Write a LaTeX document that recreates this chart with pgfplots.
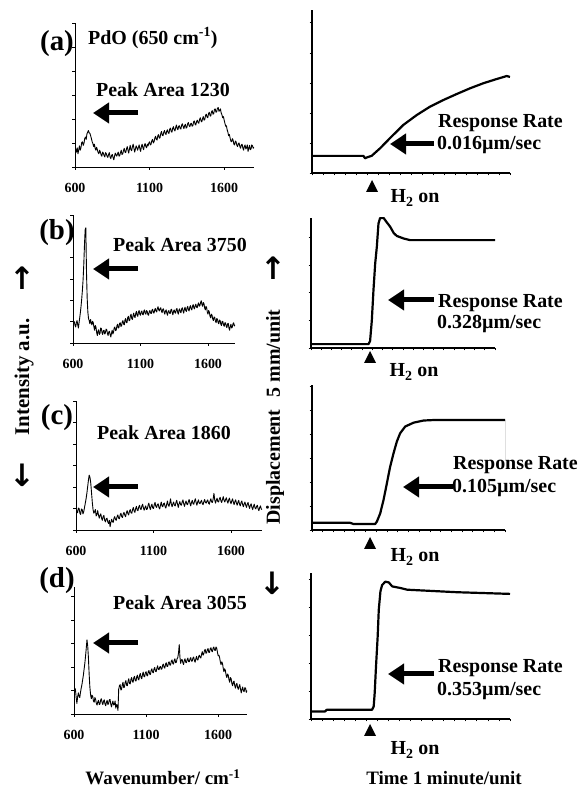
\documentclass[border=0pt]{standalone}
\usepackage{fontspec}
\setmainfont{Liberation Serif}
\newfontfamily\djv{DejaVu Sans}
\usepackage{pgfplots}
\pgfplotsset{compat=1.18}
\usetikzlibrary{arrows.meta}
\newcommand\ft[1]{\fontsize{#1}{#1}\selectfont\bfseries}
\pgfplotsset{
  leftspec/.style={scale only axis, axis x line*=bottom, axis y line*=left,
    xmin=600, xmax=1800, ymin=0, xtick={600,1100,1600}, ytick={0,...,6}, yticklabels={},
    tick align=outside, major tick length=3bp, tick style={black, line width=0.6bp},
    axis line style={line width=0.8bp},
    /pgf/number format/assume math mode=true, /pgf/number format/1000 sep={},
    x tick label style={font=\ft{14}, yshift=-10bp}},
  rightdisp/.style={scale only axis, axis x line*=bottom, axis y line*=left,
    xmin=0, xmax=18, ymin=0, xtick={0,...,18}, ytick={0,...,6}, xticklabels={}, yticklabels={},
    tick align=outside, major tick length=2.5bp, tick style={black, line width=0.8bp},
    x axis line style={line width=1.5bp}, y axis line style={line width=2bp}},
  spec/.style={black, line width=0.9bp, no marks, line join=round},
  disp/.style={black, line width=2.2bp, no marks, line join=round},
}
\newcommand\blockarrow[3]{\draw[line width=5bp, -{Triangle[length=16bp, width=20bp]}] (#1,#3) -- (#2,#3);}
\newcommand\tri[2]{\fill (#1-6,#2-6) -- (#1+6,#2-6) -- (#1,#2+6) -- cycle;}
\newcommand\arr{\djv\bfseries\fontsize{31}{31}\selectfont}
\begin{document}
\begin{tikzpicture}[x=1bp,y=1bp]
\useasboundingbox (0,0) rectangle (585,787);

% ---------- left spectra ----------
\begin{axis}[leftspec, at={(75bp,620bp)}, anchor=south west, width=179bp, height=144bp, ymax=6]
\addplot[spec] coordinates {(600,0.95) (605,0.70) (610,0.62) (615,0.80) (620,0.55) (625,0.72) (630,0.88) (635,0.70) (640,0.80) (645,1.02) (650,1.05) (655,0.90) (660,0.98) (665,1.18) (670,1.25) (675,1.15) (680,1.38) (685,1.45) (690,1.52) (695,1.42) (700,1.40) (705,1.30) (710,1.18) (715,1.05) (720,0.98) (725,0.85) (730,0.95) (735,0.78) (740,0.70) (745,0.82) (750,0.72) (755,0.60) (760,0.55) (765,0.70) (770,0.62) (775,0.50) (780,0.45) (785,0.62) (790,0.58) (795,0.48) (800,0.42) (805,0.60) (810,0.55) (815,0.45) (820,0.40) (825,0.52) (830,0.60) (835,0.42) (840,0.35) (845,0.48) (850,0.52) (855,0.40) (860,0.30) (865,0.45) (870,0.58) (875,0.50) (880,0.45) (885,0.55) (890,0.62) (895,0.45) (900,0.48) (905,0.60) (910,0.70) (915,0.52) (920,0.55) (925,0.68) (930,0.78) (935,0.62) (940,0.60) (945,0.75) (950,0.85) (955,0.70) (960,0.58) (965,0.75) (970,0.90) (975,0.72) (980,0.68) (985,0.85) (990,0.95) (995,0.78) (1000,0.62) (1005,0.75) (1010,0.88) (1015,0.80) (1020,0.70) (1025,0.82) (1030,0.92) (1035,0.75) (1040,0.65) (1045,0.85) (1050,0.95) (1055,0.80) (1060,0.72) (1065,0.90) (1070,0.98) (1075,0.85) (1080,0.80) (1085,0.95) (1090,0.88) (1095,1.00) (1100,1.05) (1105,0.92) (1110,0.95) (1115,1.10) (1120,1.15) (1125,1.00) (1130,1.05) (1135,1.20) (1140,1.28) (1145,1.15) (1150,1.12) (1155,1.30) (1160,1.35) (1165,1.20) (1170,1.22) (1175,1.40) (1180,1.48) (1185,1.32) (1190,1.30) (1195,1.45) (1200,1.52) (1205,1.40) (1210,1.35) (1215,1.50) (1220,1.55) (1225,1.42) (1230,1.40) (1235,1.58) (1240,1.62) (1245,1.48) (1250,1.45) (1255,1.62) (1260,1.68) (1265,1.55) (1270,1.50) (1275,1.65) (1280,1.75) (1285,1.60) (1290,1.55) (1295,1.70) (1300,1.72) (1305,1.60) (1310,1.58) (1315,1.75) (1320,1.80) (1325,1.68) (1330,1.60) (1335,1.72) (1340,1.78) (1345,1.62) (1350,1.65) (1355,1.80) (1360,1.85) (1365,1.72) (1370,1.68) (1375,1.80) (1380,1.82) (1385,1.70) (1390,1.72) (1395,1.88) (1400,1.92) (1405,1.78) (1410,1.75) (1415,1.90) (1420,1.95) (1425,1.85) (1430,1.82) (1435,1.98) (1440,2.05) (1445,1.92) (1450,1.88) (1455,2.02) (1460,2.10) (1465,1.95) (1470,1.98) (1475,2.15) (1480,2.20) (1485,2.08) (1490,2.05) (1495,2.22) (1500,2.28) (1505,2.15) (1510,2.12) (1515,2.30) (1520,2.35) (1525,2.20) (1530,2.22) (1535,2.40) (1540,2.42) (1545,2.28) (1550,2.30) (1555,2.45) (1560,2.48) (1565,2.32) (1570,2.35) (1575,2.42) (1580,2.25) (1585,2.18) (1590,2.05) (1595,2.10) (1600,1.95) (1605,1.82) (1610,1.70) (1615,1.72) (1620,1.55) (1625,1.45) (1630,1.30) (1635,1.35) (1640,1.20) (1645,1.08) (1650,1.05) (1655,1.18) (1660,1.12) (1665,0.95) (1670,0.92) (1675,1.08) (1680,1.05) (1685,0.90) (1690,0.85) (1695,0.98) (1700,1.00) (1705,0.85) (1710,0.78) (1715,0.92) (1720,0.95) (1725,0.80) (1730,0.70) (1735,0.85) (1740,0.92) (1745,0.75) (1750,0.80) (1755,0.92) (1760,0.65) (1765,0.78) (1770,0.90) (1775,0.72) (1780,0.75) (1785,0.92) (1790,0.88) (1795,0.78) (1800,0.82)};
\end{axis}

\begin{axis}[leftspec, at={(73bp,444bp)}, anchor=south west, width=162bp, height=128bp, ymax=6]
\addplot[spec] coordinates {(600,0.80) (605,0.95) (610,1.00) (615,0.82) (620,0.75) (625,0.95) (630,1.05) (635,0.85) (640,0.70) (645,0.95) (650,1.20) (655,1.45) (660,1.75) (665,2.10) (670,2.50) (675,3.00) (680,3.70) (685,4.60) (690,5.30) (695,5.40) (700,3.30) (705,2.10) (710,1.45) (715,1.15) (720,1.05) (725,0.90) (730,1.10) (735,0.95) (740,0.85) (745,1.02) (750,0.95) (755,0.75) (760,0.60) (765,0.82) (770,0.75) (775,0.50) (780,0.35) (785,0.55) (790,0.62) (795,0.40) (800,0.45) (805,0.70) (810,0.68) (815,0.48) (820,0.40) (825,0.58) (830,0.60) (835,0.42) (840,0.48) (845,0.65) (850,0.62) (855,0.45) (860,0.35) (865,0.52) (870,0.55) (875,0.40) (880,0.28) (885,0.45) (890,0.60) (895,0.42) (900,0.50) (905,0.70) (910,0.75) (915,0.58) (920,0.60) (925,0.80) (930,0.88) (935,0.70) (940,0.72) (945,0.92) (950,0.95) (955,0.78) (960,0.80) (965,1.00) (970,1.05) (975,0.88) (980,0.85) (985,1.08) (990,1.15) (995,0.95) (1000,0.95) (1005,1.18) (1010,1.25) (1015,1.05) (1020,1.05) (1025,1.28) (1030,1.35) (1035,1.15) (1040,1.10) (1045,1.30) (1050,1.40) (1055,1.22) (1060,1.20) (1065,1.40) (1070,1.48) (1075,1.30) (1080,1.25) (1085,1.45) (1090,1.52) (1095,1.35) (1100,1.30) (1105,1.45) (1110,1.50) (1115,1.35) (1120,1.32) (1125,1.50) (1130,1.55) (1135,1.38) (1140,1.35) (1145,1.52) (1150,1.48) (1155,1.32) (1160,1.30) (1165,1.48) (1170,1.52) (1175,1.40) (1180,1.38) (1185,1.55) (1190,1.58) (1195,1.42) (1200,1.40) (1205,1.55) (1210,1.62) (1215,1.50) (1220,1.45) (1225,1.62) (1230,1.70) (1235,1.55) (1240,1.50) (1245,1.62) (1250,1.65) (1255,1.50) (1260,1.42) (1265,1.58) (1270,1.60) (1275,1.45) (1280,1.35) (1285,1.50) (1290,1.55) (1295,1.40) (1300,1.30) (1305,1.48) (1310,1.52) (1315,1.40) (1320,1.38) (1325,1.55) (1330,1.58) (1335,1.42) (1340,1.32) (1345,1.50) (1350,1.55) (1355,1.42) (1360,1.40) (1365,1.58) (1370,1.62) (1375,1.45) (1380,1.35) (1385,1.55) (1390,1.60) (1395,1.45) (1400,1.42) (1405,1.60) (1410,1.65) (1415,1.50) (1420,1.40) (1425,1.58) (1430,1.68) (1435,1.52) (1440,1.48) (1445,1.65) (1450,1.72) (1455,1.55) (1460,1.50) (1465,1.68) (1470,1.75) (1475,1.60) (1480,1.55) (1485,1.72) (1490,1.80) (1495,1.65) (1500,1.60) (1505,1.75) (1510,1.82) (1515,1.68) (1520,1.65) (1525,1.80) (1530,1.88) (1535,1.72) (1540,1.75) (1545,1.90) (1550,1.98) (1555,1.80) (1560,1.72) (1565,1.90) (1570,1.85) (1575,1.65) (1580,1.55) (1585,1.72) (1590,1.65) (1595,1.45) (1600,1.35) (1605,1.52) (1610,1.45) (1615,1.25) (1620,1.18) (1625,1.35) (1630,1.30) (1635,1.12) (1640,1.05) (1645,1.22) (1650,1.20) (1655,1.02) (1660,0.95) (1665,1.15) (1670,1.12) (1675,0.95) (1680,0.90) (1685,1.08) (1690,1.05) (1695,0.88) (1700,0.82) (1705,1.02) (1710,1.00) (1715,0.85) (1720,0.78) (1725,0.95) (1730,0.95) (1735,0.78) (1740,0.72) (1745,0.90) (1750,0.92) (1755,0.70) (1760,0.60) (1765,0.78) (1770,0.88) (1775,0.70) (1780,0.75) (1785,0.90) (1790,0.95) (1795,0.80) (1800,0.85)};
\end{axis}

\begin{axis}[leftspec, at={(76bp,257bp)}, anchor=south west, width=186bp, height=129bp, ymax=6]
\addplot[spec] coordinates {(600,1.05) (605,0.85) (610,0.80) (615,1.02) (620,1.00) (625,0.78) (630,0.72) (635,0.98) (640,0.95) (645,0.75) (650,0.85) (655,1.05) (660,1.25) (665,1.45) (670,1.70) (675,2.00) (680,2.30) (685,2.55) (690,2.45) (695,2.20) (700,1.75) (705,1.30) (710,0.95) (715,0.78) (720,0.85) (725,0.95) (730,0.65) (735,0.72) (740,0.90) (745,0.70) (750,0.55) (755,0.68) (760,0.75) (765,0.55) (770,0.45) (775,0.62) (780,0.68) (785,0.45) (790,0.38) (795,0.52) (800,0.55) (805,0.38) (810,0.30) (815,0.45) (820,0.15) (825,0.35) (830,0.50) (835,0.40) (840,0.35) (845,0.55) (850,0.62) (855,0.48) (860,0.45) (865,0.62) (870,0.70) (875,0.55) (880,0.52) (885,0.70) (890,0.78) (895,0.62) (900,0.58) (905,0.75) (910,0.82) (915,0.68) (920,0.62) (925,0.80) (930,0.90) (935,0.75) (940,0.70) (945,0.88) (950,0.95) (955,0.80) (960,0.78) (965,0.95) (970,1.05) (975,0.88) (980,0.82) (985,1.00) (990,1.10) (995,0.92) (1000,0.90) (1005,1.08) (1010,1.15) (1015,0.98) (1020,0.95) (1025,1.12) (1030,1.20) (1035,1.02) (1040,0.92) (1045,1.05) (1050,1.12) (1055,0.95) (1060,0.98) (1065,1.15) (1070,1.25) (1075,1.05) (1080,0.95) (1085,1.12) (1090,1.20) (1095,1.02) (1100,1.00) (1105,1.18) (1110,1.28) (1115,1.10) (1120,1.05) (1125,1.18) (1130,1.22) (1135,1.05) (1140,0.98) (1145,1.15) (1150,1.30) (1155,1.12) (1160,1.08) (1165,1.22) (1170,1.25) (1175,1.08) (1180,1.02) (1185,1.20) (1190,1.35) (1195,1.15) (1200,1.10) (1205,1.25) (1210,1.45) (1215,1.20) (1220,1.08) (1225,1.22) (1230,1.30) (1235,1.15) (1240,1.12) (1245,1.28) (1250,1.38) (1255,1.20) (1260,1.05) (1265,1.22) (1270,1.32) (1275,1.18) (1280,1.15) (1285,1.30) (1290,1.40) (1295,1.22) (1300,1.10) (1305,1.25) (1310,1.35) (1315,1.20) (1320,1.18) (1325,1.32) (1330,1.42) (1335,1.25) (1340,1.12) (1345,1.28) (1350,1.38) (1355,1.22) (1360,1.20) (1365,1.35) (1370,1.45) (1375,1.28) (1380,1.15) (1385,1.30) (1390,1.40) (1395,1.25) (1400,1.22) (1405,1.32) (1410,1.38) (1415,1.22) (1420,1.18) (1425,1.32) (1430,1.42) (1435,1.28) (1440,1.25) (1445,1.35) (1450,1.40) (1455,1.25) (1460,1.20) (1465,1.35) (1470,1.45) (1475,1.30) (1480,1.28) (1485,1.45) (1490,1.70) (1495,1.40) (1500,1.25) (1505,1.38) (1510,1.48) (1515,1.32) (1520,1.30) (1525,1.45) (1530,1.52) (1535,1.35) (1540,1.28) (1545,1.42) (1550,1.55) (1555,1.38) (1560,1.30) (1565,1.42) (1570,1.50) (1575,1.35) (1580,1.25) (1585,1.40) (1590,1.48) (1595,1.32) (1600,1.22) (1605,1.35) (1610,1.45) (1615,1.30) (1620,1.18) (1625,1.32) (1630,1.40) (1635,1.25) (1640,1.15) (1645,1.30) (1650,1.38) (1655,1.20) (1660,1.12) (1665,1.28) (1670,1.35) (1675,1.18) (1680,1.08) (1685,1.22) (1690,1.30) (1695,1.15) (1700,1.05) (1705,1.20) (1710,1.28) (1715,1.12) (1720,1.00) (1725,1.15) (1730,1.22) (1735,1.05) (1740,0.95) (1745,1.10) (1750,1.20) (1755,1.02) (1760,0.98) (1765,1.10) (1770,1.15) (1775,0.98) (1780,0.90) (1785,1.05) (1790,1.12) (1795,0.98) (1800,0.95)};
\end{axis}

\begin{axis}[leftspec, at={(74bp,73bp)}, anchor=south west, width=173bp, height=127bp, ymax=5.4]
\addplot[spec] coordinates {(600,0.80) (605,1.10) (610,1.05) (615,0.70) (620,0.45) (625,0.72) (630,0.90) (635,0.75) (640,0.70) (645,0.92) (650,1.10) (655,1.25) (660,1.45) (665,1.65) (670,1.90) (675,2.15) (680,2.45) (685,2.80) (690,3.15) (695,2.90) (700,2.40) (705,1.70) (710,1.15) (715,0.82) (720,0.65) (725,0.80) (730,0.75) (735,0.55) (740,0.50) (745,0.70) (750,0.62) (755,0.45) (760,0.38) (765,0.52) (770,0.58) (775,0.40) (780,0.42) (785,0.60) (790,0.65) (795,0.48) (800,0.40) (805,0.55) (810,0.60) (815,0.42) (820,0.35) (825,0.50) (830,0.58) (835,0.40) (840,0.45) (845,0.60) (850,0.62) (855,0.42) (860,0.30) (865,0.45) (870,0.55) (875,0.38) (880,0.40) (885,0.55) (890,0.25) (895,0.40) (900,0.35) (905,0.15) (910,1.05) (915,1.20) (920,1.25) (925,1.02) (930,1.05) (935,1.25) (940,1.35) (945,1.12) (950,1.15) (955,1.35) (960,1.42) (965,1.22) (970,1.20) (975,1.40) (980,1.50) (985,1.30) (990,1.28) (995,1.48) (1000,1.55) (1005,1.38) (1010,1.35) (1015,1.55) (1020,1.60) (1025,1.42) (1030,1.40) (1035,1.58) (1040,1.65) (1045,1.48) (1050,1.45) (1055,1.65) (1060,1.72) (1065,1.55) (1070,1.50) (1075,1.68) (1080,1.78) (1085,1.60) (1090,1.58) (1095,1.75) (1100,1.80) (1105,1.65) (1110,1.62) (1115,1.80) (1120,1.85) (1125,1.70) (1130,1.68) (1135,1.85) (1140,1.92) (1145,1.78) (1150,1.75) (1155,1.92) (1160,1.98) (1165,1.82) (1170,1.80) (1175,1.95) (1180,2.05) (1185,1.90) (1190,1.88) (1195,2.00) (1200,2.02) (1205,1.90) (1210,1.92) (1215,2.08) (1220,2.12) (1225,1.98) (1230,1.95) (1235,2.12) (1240,2.18) (1245,2.02) (1250,2.02) (1255,2.18) (1260,2.22) (1265,2.08) (1270,2.08) (1275,2.25) (1280,2.30) (1285,2.15) (1290,2.12) (1295,2.28) (1300,2.35) (1305,2.18) (1310,2.20) (1315,2.35) (1320,2.40) (1325,2.60) (1330,2.95) (1335,2.40) (1340,2.15) (1345,2.30) (1350,2.32) (1355,2.18) (1360,2.10) (1365,2.28) (1370,2.35) (1375,2.20) (1380,2.18) (1385,2.32) (1390,2.38) (1395,2.22) (1400,2.22) (1405,2.35) (1410,2.40) (1415,2.25) (1420,2.25) (1425,2.38) (1430,2.42) (1435,2.28) (1440,2.20) (1445,2.35) (1450,2.45) (1455,2.30) (1460,2.30) (1465,2.45) (1470,2.50) (1475,2.40) (1480,2.38) (1485,2.55) (1490,2.65) (1495,2.50) (1500,2.55) (1505,2.70) (1510,2.75) (1515,2.58) (1520,2.60) (1525,2.75) (1530,2.78) (1535,2.62) (1540,2.62) (1545,2.78) (1550,2.82) (1555,2.68) (1560,2.65) (1565,2.80) (1570,2.85) (1575,2.72) (1580,2.70) (1585,2.85) (1590,2.80) (1595,2.62) (1600,2.48) (1605,2.50) (1610,2.40) (1615,2.22) (1620,2.10) (1625,2.22) (1630,2.15) (1635,1.95) (1640,1.80) (1645,1.92) (1650,1.85) (1655,1.65) (1660,1.55) (1665,1.70) (1670,1.65) (1675,1.45) (1680,1.35) (1685,1.55) (1690,1.50) (1695,1.30) (1700,1.20) (1705,1.35) (1710,1.40) (1715,1.20) (1720,1.10) (1725,1.25) (1730,1.30) (1735,1.12) (1740,1.05) (1745,1.18) (1750,1.25) (1755,1.05) (1760,0.90) (1765,1.05) (1770,1.15) (1775,0.98) (1780,0.95) (1785,1.12) (1790,1.10) (1795,0.92) (1800,1.00)};
\end{axis}

% ---------- right displacement ----------
\begin{axis}[rightdisp, at={(312bp,614bp)}, anchor=south west, width=198bp, height=163bp, ymax=5.43]
\addplot[disp] coordinates {(0,0.57) (4.67,0.57) (4.82,0.49) (5.0,0.52) (5.42,0.57) (6.18,0.82) (7.09,1.16) (8.30,1.60) (9.52,1.93) (10.73,2.21) (11.94,2.43) (13.15,2.63) (14.36,2.82) (15.58,2.99) (16.79,3.13) (17.7,3.23) (18.0,3.2)};
\end{axis}

\begin{axis}[rightdisp, at={(311bp,439bp)}, anchor=south west, width=184bp, height=130bp, ymax=4.7]
\addplot[disp] coordinates {(0,0.14) (5.62,0.14) (5.78,0.25) (5.95,1.0) (6.11,2.09) (6.28,3.06) (6.44,3.66) (6.60,4.5) (6.76,4.7) (7.1,4.7) (7.4,4.55) (7.75,4.38) (8.1,4.15) (8.4,4.05) (9.05,3.96) (9.7,3.9) (18,3.9)};
\end{axis}

\begin{axis}[rightdisp, at={(312bp,257bp)}, anchor=south west, width=193bp, height=145bp, ymax=6.04]
\addplot[disp] coordinates {(0,0.30) (3.55,0.30) (3.86,0.25) (5.89,0.25) (6.05,0.35) (6.36,0.69) (6.67,1.25) (6.98,1.94) (7.29,2.64) (7.60,3.19) (7.91,3.68) (8.22,4.03) (8.69,4.31) (9.47,4.47) (10.4,4.56) (11.34,4.58) (18,4.58)};
\addplot[black, line width=1bp, no marks] coordinates {(18,4.58) (18,2.92)};
\end{axis}

\begin{axis}[rightdisp, at={(311bp,68bp)}, anchor=south west, width=199bp, height=146bp, ymax=5.24]
\addplot[disp] coordinates {(0,0.27) (1.27,0.27) (1.42,0.33) (5.52,0.33) (5.67,0.45) (5.76,0.93) (5.88,1.89) (6.03,2.96) (6.13,3.92) (6.28,4.58) (6.43,4.81) (6.73,4.93) (7.04,4.90) (7.34,4.76) (8.10,4.70) (8.70,4.64) (10.2,4.61) (11.7,4.58) (13.2,4.55) (15.6,4.52) (18.0,4.49)};
\end{axis}

% ---------- annotations ----------
\node[font=\ft{29}] at (57,743) {(a)};
\node[font=\ft{29}] at (57,554) {(b)};
\node[font=\ft{29}] at (57,369) {(c)};
\node[font=\ft{29}] at (57,206) {(d)};

\node[font=\ft{20}, anchor=west, inner sep=0] at (88,749) {PdO (650 cm\textsuperscript{-1})};
\node[font=\ft{20}] at (163,697) {Peak Area 1230};
\node[font=\ft{20}] at (180,542) {Peak Area 3750};
\node[font=\ft{20}] at (164,354) {Peak Area 1860};
\node[font=\ft{20}] at (180,184) {Peak Area 3055};

\blockarrow{138}{93}{674}
\blockarrow{138}{93}{518}
\blockarrow{138}{93}{300}
\blockarrow{138}{93}{144}

\blockarrow{434}{390}{643}
\blockarrow{434}{388}{487}
\blockarrow{453}{403}{300}
\blockarrow{434}{388}{113}

\node[font=\ft{20}, anchor=west, inner sep=0] at (438,664) {Response Rate};
\node[font=\ft{20}, anchor=west, inner sep=0] at (437,642) {0.016µm/sec};
\node[font=\ft{20}, anchor=west, inner sep=0] at (438,484) {Response Rate};
\node[font=\ft{20}, anchor=west, inner sep=0] at (437,463) {0.328µm/sec};
\node[font=\ft{20}, anchor=west, inner sep=0] at (453,322) {Response Rate};
\node[font=\ft{20}, anchor=west, inner sep=0] at (452,299) {0.105µm/sec};
\node[font=\ft{20}, anchor=west, inner sep=0] at (438,119) {Response Rate};
\node[font=\ft{20}, anchor=west, inner sep=0] at (437,96) {0.353µm/sec};

\tri{372}{601}
\tri{370}{430}
\tri{370}{244}
\tri{370}{57}
\node[font=\ft{20}] at (415,589) {H\textsubscript{2} on};
\node[font=\ft{20}] at (414,415) {H\textsubscript{2} on};
\node[font=\ft{20}] at (415,230) {H\textsubscript{2} on};
\node[font=\ft{20}] at (415,37) {H\textsubscript{2} on};

\node[font=\ft{19}] at (163,10) {Wavenumber/ cm\textsuperscript{-1}};
\node[font=\ft{19}] at (444,9) {Time 1 minute/unit};

\node[font=\ft{21}, rotate=90] at (24,410) {Intensity a.u.};
\node[font=\arr] at (22,509) {↑};
\node[font=\arr] at (22,312) {↓};

\node[font=\ft{20}, rotate=90] at (275,370) {Displacement\hspace{0.6em}5 mm/unit};
\node[font=\arr] at (273,519) {↑};
\node[font=\arr] at (272,204) {↓};
\end{tikzpicture}
\end{document}
